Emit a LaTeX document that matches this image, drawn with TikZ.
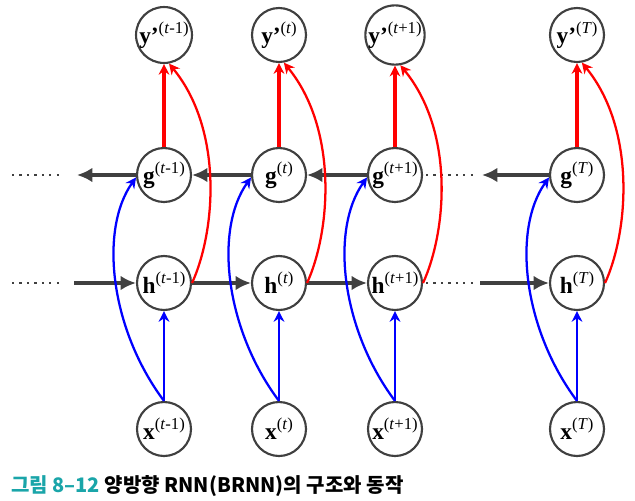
\documentclass[tikz,border=0pt]{standalone}
\usepackage{fontspec}
\usetikzlibrary{arrows.meta}
\newfontfamily\labfont{Liberation Serif}
\newfontfamily\krfont{Noto Sans CJK KR}
\definecolor{dgray}{HTML}{404040}
\definecolor{tealcap}{HTML}{1AA5A9}
\newcommand\nlab[2]{{\labfont\fontsize{17.5}{19}\selectfont\textbf{#1}\raisebox{0.42em}{\fontsize{12.5}{13}\selectfont(#2)}}}
\tikzset{
  nd/.style={circle, draw=dgray, line width=1.6pt, minimum size=40.5pt, inner sep=0pt},
  garr/.style={draw=dgray, line width=2.5pt, -{Latex[length=11.5pt,width=11pt]}},
  dotline/.style={draw=dgray, line width=1.6pt, dash pattern=on 1.6pt off 4pt},
  rarr/.style={draw=red, line width=2.3pt, -{Stealth[length=8pt,width=8pt]}},
  rcurve/.style={draw=red, line width=1.7pt, -{Stealth[length=8pt,width=8pt]}},
  barr/.style={draw=blue, line width=2.1pt, -{Stealth[length=8pt,width=8pt]}},
  bcurve/.style={draw=blue, line width=1.7pt, -{Stealth[length=8pt,width=8pt]}},
}
\begin{document}
\begin{tikzpicture}[x=0.75pt,y=-0.75pt]
\useasboundingbox (0,0) rectangle (635,500);
% nodes
\node[nd] (y1) at (164,35) {\nlab{y’}{\textit{t}-1}};
\node[nd] (y2) at (279,35) {\nlab{y’}{\textit{t}}};
\node[nd] (y3) at (395,35) {\nlab{y’}{\textit{t}+1}};
\node[nd] (y4) at (577,35) {\nlab{y’}{\textit{T}}};
\node[nd] (g1) at (164,175) {\nlab{g}{\textit{t}-1}};
\node[nd] (g2) at (279,175) {\nlab{g}{\textit{t}}};
\node[nd] (g3) at (395,175) {\nlab{g}{\textit{t}+1}};
\node[nd] (g4) at (577,175) {\nlab{g}{\textit{T}}};
\node[nd] (h1) at (164,283) {\nlab{h}{\textit{t}-1}};
\node[nd] (h2) at (279,283) {\nlab{h}{\textit{t}}};
\node[nd] (h3) at (395,283) {\nlab{h}{\textit{t}+1}};
\node[nd] (h4) at (577,283) {\nlab{h}{\textit{T}}};
\node[nd] (x1) at (164,429) {\nlab{x}{\textit{t}-1}};
\node[nd] (x2) at (279,429) {\nlab{x}{\textit{t}}};
\node[nd] (x3) at (395,429) {\nlab{x}{\textit{t}+1}};
\node[nd] (x4) at (577,429) {\nlab{x}{\textit{T}}};
% free ends
\coordinate (gl) at (77,175);
\coordinate (gr) at (482,175);
\coordinate (hl) at (74,283);
\coordinate (hr) at (480,283);
\coordinate (gd1a) at (12,175); \coordinate (gd1b) at (59,175);
\coordinate (hd1a) at (12,283); \coordinate (hd1b) at (59,283);
\coordinate (gd2a) at (426,175); \coordinate (gd2b) at (473,175);
\coordinate (hd2a) at (426,283); \coordinate (hd2b) at (473,283);
% dotted
\draw[dotline] (gd1a) -- (gd1b);
\draw[dotline] (hd1a) -- (hd1b);
\draw[dotline] (gd2a) -- (gd2b);
\draw[dotline] (hd2a) -- (hd2b);
% backward chain
\draw[garr] (g1.west) -- (gl);
\draw[garr] (g2.west) -- (g1.east);
\draw[garr] (g3.west) -- (g2.east);
\draw[garr] (g4.west) -- (gr);
% forward chain
\draw[garr] (hl) -- (h1.west);
\draw[garr] (h1.east) -- (h2.west);
\draw[garr] (h2.east) -- (h3.west);
\draw[garr] (hr) -- (h4.west);
% inputs
\foreach \i in {1,2,3,4}{
  \draw[barr] (x\i.north) -- (h\i.south);
  \draw[bcurve] (x\i.north) .. controls +(-54,-72) and +(-37,52) .. (g\i.185);
  \draw[rarr] (g\i.north) -- (y\i.south);
  \draw[rcurve] (h\i.east) .. controls +(24,-53) and +(54,66) .. (y\i.-80);
}
% caption
\node[anchor=west, inner sep=0pt, font=\krfont\bfseries\fontsize{15}{17}\selectfont] (cap) at (11,486) {\textcolor{tealcap}{그림 8–12}\ 양방향 RNN(BRNN)의 구조와 동작};
\end{tikzpicture}
\end{document}
